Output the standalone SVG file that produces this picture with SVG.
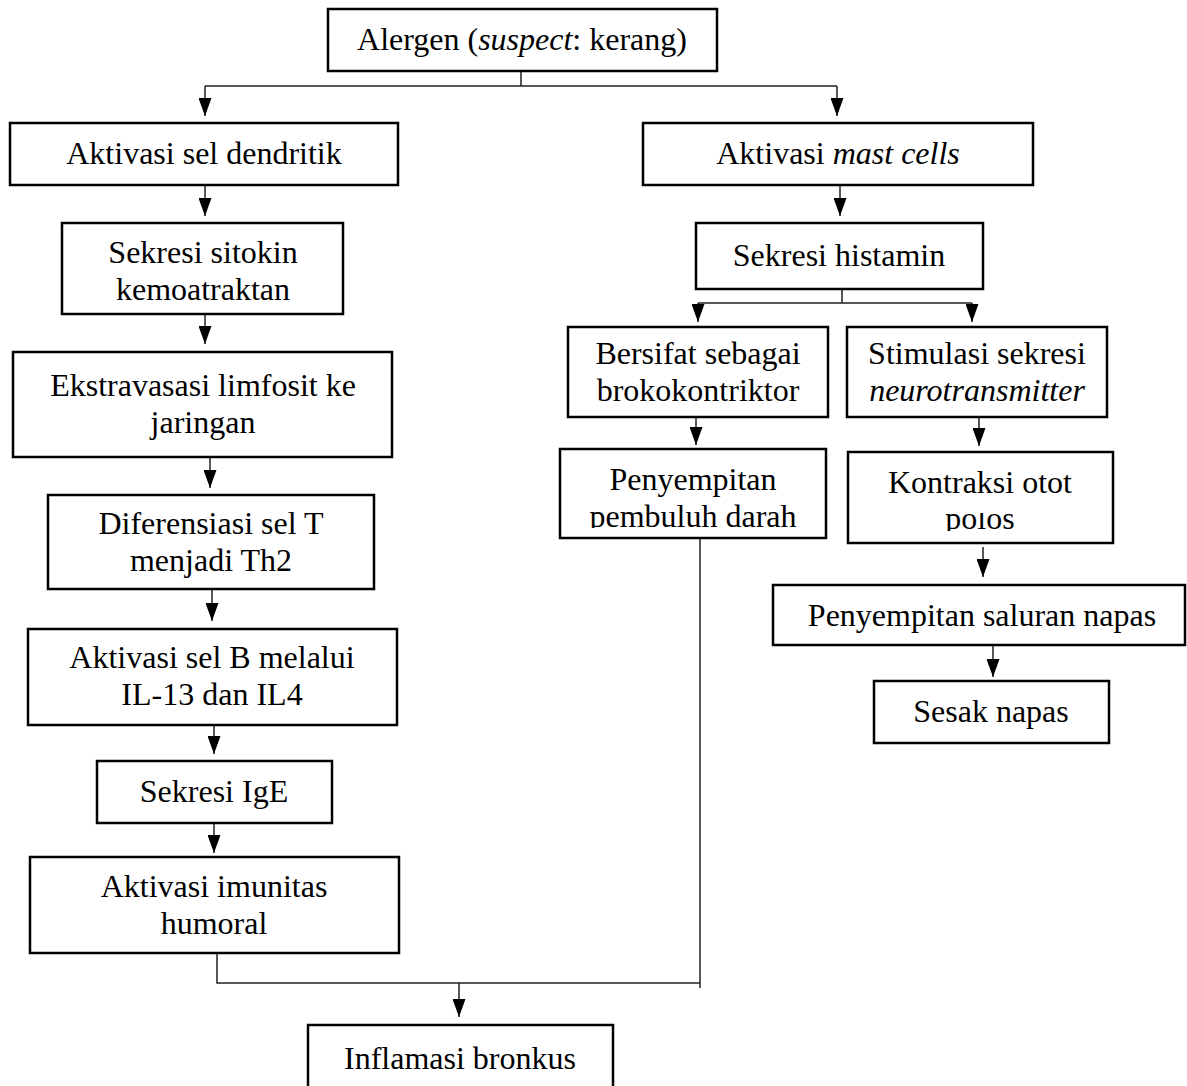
<svg xmlns="http://www.w3.org/2000/svg" width="1187" height="1086" viewBox="0 0 1187 1086">
<style>
  .box { fill: #fff; stroke: #000; stroke-width: 2.5; }
  .t { font-family: "Liberation Serif", "Times New Roman", serif; font-size: 32px; fill: #000; text-anchor: middle; }
  .i { font-style: italic; }
  .c { fill: none; stroke: #222; stroke-width: 1.5; }
  .a { fill: none; stroke: #222; stroke-width: 1.5; marker-end: url(#ah); }
</style>
<defs>
  <marker id="ah" viewBox="0 0 18 13" refX="18" refY="6.5" markerWidth="18" markerHeight="13" markerUnits="userSpaceOnUse" orient="auto">
    <path d="M0,0 L18,6.5 L0,13 z" fill="#000"/>
  </marker>
  <clipPath id="clipPembuluh" clipPathUnits="userSpaceOnUse"><rect x="560" y="449" width="266" height="79"/></clipPath>
  <clipPath id="clipPolos" clipPathUnits="userSpaceOnUse"><rect x="848" y="513" width="265" height="18"/></clipPath>
</defs>
<rect width="1187" height="1086" fill="#fff"/>

<g id="connectors">
  <path class="c" d="M521,71 V86 M205,86 H837"/>
  <path class="a" d="M205,86 V116"/>
  <path class="a" d="M837,86 V116"/>
  <path class="a" d="M205,185 V216"/>
  <path class="a" d="M205,314 V344"/>
  <path class="a" d="M210,457 V488"/>
  <path class="a" d="M212,589 V621"/>
  <path class="a" d="M214,725 V754"/>
  <path class="a" d="M214,823 V853"/>
  <path class="c" d="M217,953 V983 H700 M700,538 V988"/>
  <path class="a" d="M459,983 V1017"/>
  <path class="a" d="M840,185 V216"/>
  <path class="c" d="M842,289 V303 M698,303 H972"/>
  <path class="a" d="M698,303 V322"/>
  <path class="a" d="M972,303 V322"/>
  <path class="a" d="M696,417 V445"/>
  <path class="a" d="M979,417 V446"/>
  <path class="a" d="M983,547 V577"/>
  <path class="a" d="M993,645 V677"/>
</g>

<g id="alergen">
  <rect class="box" x="328" y="9" width="389" height="62"/>
  <text class="t" x="522" y="50">Alergen (<tspan class="i">suspect</tspan>: kerang)</text>
</g>
<g id="sel-dendritik">
  <rect class="box" x="10" y="123" width="388" height="62"/>
  <text class="t" x="204" y="164">Aktivasi sel dendritik</text>
</g>
<g id="sitokin">
  <rect class="box" x="62" y="223" width="281" height="91"/>
  <text class="t" x="203" y="263">Sekresi sitokin</text>
  <text class="t" x="203" y="300">kemoatraktan</text>
</g>
<g id="ekstravasasi">
  <rect class="box" x="13" y="352" width="379" height="105"/>
  <text class="t" x="203" y="396">Ekstravasasi limfosit ke</text>
  <text class="t" x="203" y="433">jaringan</text>
</g>
<g id="diferensiasi">
  <rect class="box" x="48" y="495" width="326" height="94"/>
  <text class="t" x="211" y="534">Diferensiasi sel T</text>
  <text class="t" x="211" y="571">menjadi Th2</text>
</g>
<g id="sel-b">
  <rect class="box" x="28" y="629" width="369" height="96"/>
  <text class="t" x="212" y="668">Aktivasi sel B melalui</text>
  <text class="t" x="212" y="705">IL-13 dan IL4</text>
</g>
<g id="ige">
  <rect class="box" x="97" y="761" width="235" height="62"/>
  <text class="t" x="214" y="802">Sekresi IgE</text>
</g>
<g id="imunitas">
  <rect class="box" x="30" y="857" width="369" height="96"/>
  <text class="t" x="214" y="897">Aktivasi imunitas</text>
  <text class="t" x="214" y="934">humoral</text>
</g>
<g id="inflamasi">
  <rect class="box" x="308" y="1025" width="305" height="80"/>
  <text class="t" x="460" y="1069">Inflamasi bronkus</text>
</g>
<g id="mast-cells">
  <rect class="box" x="643" y="123" width="390" height="62"/>
  <text class="t" x="838" y="164">Aktivasi <tspan class="i">mast cells</tspan></text>
</g>
<g id="histamin">
  <rect class="box" x="696" y="223" width="287" height="66"/>
  <text class="t" x="839" y="266">Sekresi histamin</text>
</g>
<g id="bersifat">
  <rect class="box" x="568" y="327" width="260" height="90"/>
  <text class="t" x="698" y="364">Bersifat sebagai</text>
  <text class="t" x="698" y="401">brokokontriktor</text>
</g>
<g id="stimulasi">
  <rect class="box" x="847" y="327" width="260" height="90"/>
  <text class="t" x="977" y="364">Stimulasi sekresi</text>
  <text class="t i" x="977" y="401">neurotransmitter</text>
</g>
<g id="pembuluh">
  <rect class="box" x="560" y="449" width="266" height="89"/>
  <text class="t" x="693" y="490">Penyempitan</text>
  <text class="t" x="693" y="527" clip-path="url(#clipPembuluh)">pembuluh darah</text>
</g>
<g id="kontraksi">
  <rect class="box" x="848" y="452" width="265" height="91"/>
  <text class="t" x="980" y="493">Kontraksi otot</text>
  <text class="t" x="980" y="529" clip-path="url(#clipPolos)">polos</text>
</g>
<g id="saluran">
  <rect class="box" x="773" y="585" width="412" height="60"/>
  <text class="t" x="982" y="626">Penyempitan saluran napas</text>
</g>
<g id="sesak">
  <rect class="box" x="874" y="681" width="235" height="62"/>
  <text class="t" x="991" y="722">Sesak napas</text>
</g>
</svg>
